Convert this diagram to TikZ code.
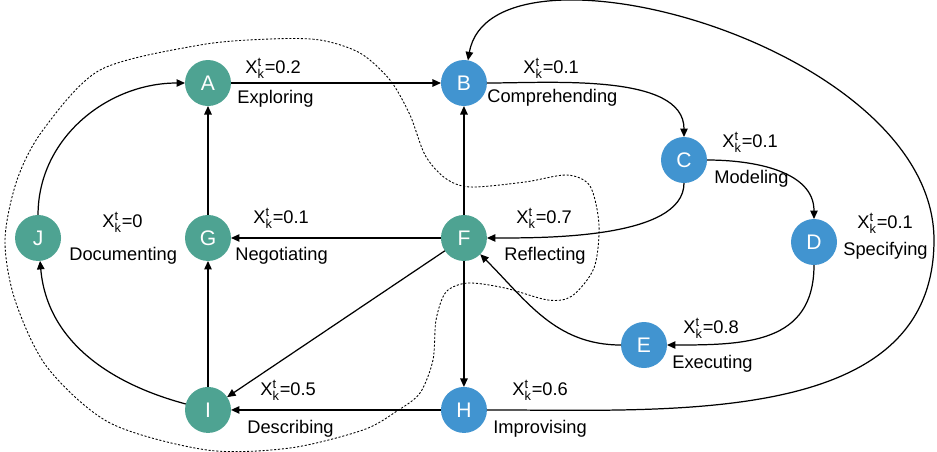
\documentclass[tikz,border=0pt]{standalone}
\usepackage{fontspec}
\setmainfont{Liberation Sans}
\usepackage{tikz}
\usetikzlibrary{arrows.meta}
\usetikzlibrary{positioning}
\definecolor{stategreen}{HTML}{4EA392}
\definecolor{stateblue}{HTML}{4194D0}
\tikzset{%
  state/.style = {circle, minimum size=0.92cm, inner sep=0pt, outer sep=0pt, text=white, font=\fontsize{12}{14}\selectfont},
  greenstate/.style = {state, fill=stategreen},
  bluestate/.style = {state, fill=stateblue},
  txt/.style = {anchor=base west, inner sep=0pt, font=\fontsize{10.4}{12}\selectfont},
  link/.style = {-{Triangle[length=1.7mm,width=1.5mm]}, line width=0.7pt},
  blob/.style = {line width=0.5pt, dash pattern=on 1.2pt off 1pt}
}
\newcommand{\xkt}[1]{X$^{\mathrm{t}}_{\mathrm{k}}$=#1}

\begin{document}
\begin{tikzpicture}[x=0.02cm, y=-0.02cm]
  \useasboundingbox (0,0) rectangle (937,451);

  % states
  \node (A) [greenstate] at (208,83) {A};
  \node (B) [bluestate, right=4.2cm of A] {B};
  \node (G) [greenstate, below=2.18cm of A] {G};
  \node (F) [greenstate, below=2.18cm of B] {F};
  \node (I) [greenstate, below=2.52cm of G] {I};
  \node (H) [bluestate, below=2.52cm of F] {H};
  \node (J) [greenstate, left=2.48cm of G] {J};
  \node (C) [bluestate] at (684,160) {C};
  \node (D) [bluestate] at (814,242) {D};
  \node (E) [bluestate] at (644,345) {E};

  % values and names
  \node (A-val) [txt] at (245,73) {\xkt{0.2}};
  \node (A-name) [txt] at (237,103) {Exploring};
  \node (B-val) [txt] at (523,73) {\xkt{0.1}};
  \node (B-name) [txt] at (487,102) {Comprehending};
  \node (C-val) [txt] at (722,147) {\xkt{0.1}};
  \node (C-name) [txt] at (714,183) {Modeling};
  \node (D-val) [txt] at (857,228) {\xkt{0.1}};
  \node (D-name) [txt] at (843,255) {Specifying};
  \node (E-val) [txt] at (683,333) {\xkt{0.8}};
  \node (E-name) [txt] at (672,368) {Executing};
  \node (F-val) [txt] at (516,223) {\xkt{0.7}};
  \node (F-name) [txt] at (504,260) {Reflecting};
  \node (G-val) [txt] at (253,223) {\xkt{0.1}};
  \node (G-name) [txt] at (235,260) {Negotiating};
  \node (H-val) [txt] at (512,395) {\xkt{0.6}};
  \node (H-name) [txt] at (493,433) {Improvising};
  \node (I-val) [txt] at (260,395) {\xkt{0.5}};
  \node (I-name) [txt] at (247,433) {Describing};
  \node (J-val) [txt] at (102,227) {\xkt{0}};
  \node (J-name) [txt] at (69,260) {Documenting};

  % group boundary
  \draw[blob] plot[smooth cycle] coordinates {(207,450) (110,423) (47,367) (15,300) (5,240)
    (17,180) (43,130) (100,70) (200,45) (270,39) (320,40) (360,53) (390,80) (410,115)
    (425,155) (445,178) (470,187) (525,182) (567,175) (590,186) (599,225) (594,268)
    (572,296) (548,300) (505,288) (468,283) (446,292) (436,320) (433,360) (420,393)
    (397,411) (363,430) (290,448)};

  \draw[link] (J) to[out=90,in=180] (A);
  \draw[link] (G) -- (A);
  \draw[link] (A) -- (B);
  \draw[link] (F) -- (B);
  \draw[link] (B) to[out=0,in=90,looseness=0.8] (C);
  \draw[link] (C) to[out=0,in=90] (D);
  \draw[link] (C) to[out=-90,in=0,looseness=0.7] (F);
  \draw[link] (D) to[out=-90,in=0,looseness=1.2] (E);
  \draw[link] (E) to[out=180,in=-45] (F);
  \draw[link] (F) -- (G);
  \draw[link] (F) -- (I);
  \draw[link] (F) -- (H);
  \draw[link] (H) -- (I);
  \draw[link] (I) -- (G);
  \draw[link] (I) to[out=165,in=-85] (J);
  \coordinate (loop-turn) at (934,240);
  \draw[link] (H) to[out=0,in=-90] (loop-turn)
    to[out=90,in=80,out looseness=1,in looseness=0.7] (B);
\end{tikzpicture}
\end{document}
